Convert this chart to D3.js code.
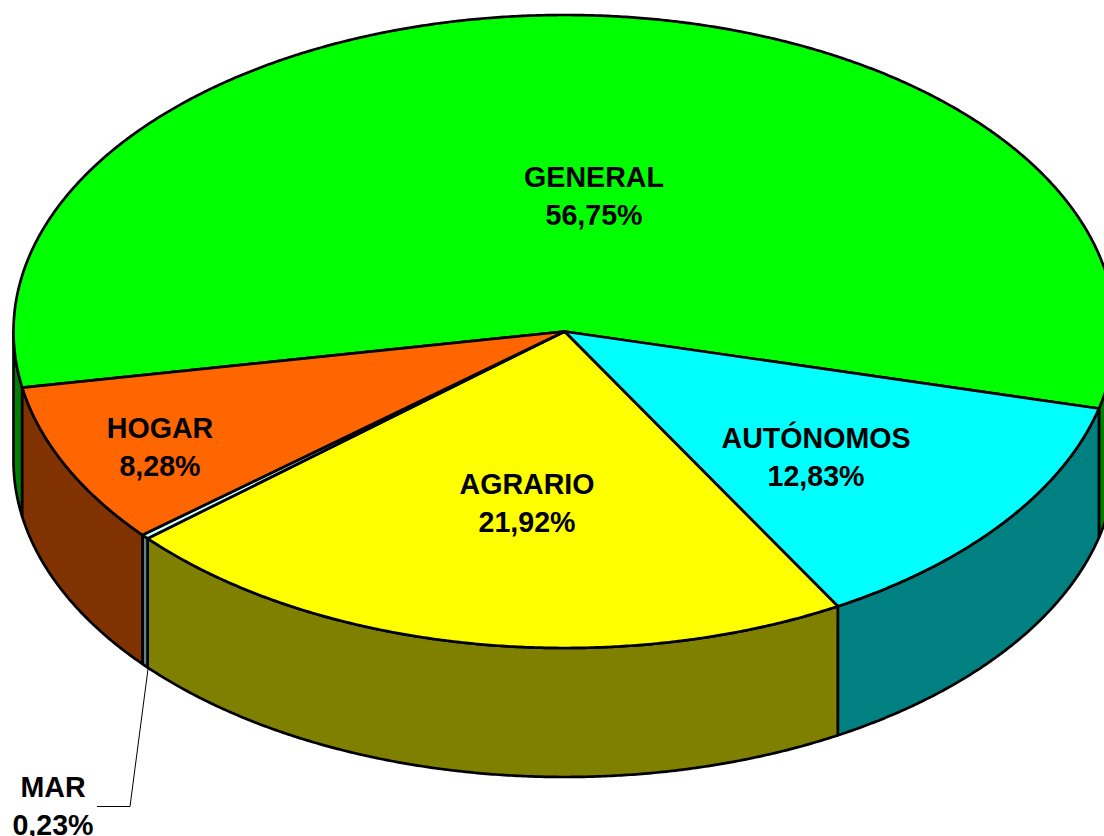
<!DOCTYPE html>
<html>
<head>
<meta charset="utf-8">
<style>html,body{margin:0;padding:0;background:#fff}svg{display:block}</style>
<script src="https://cdn.jsdelivr.net/npm/d3@7"></script>
</head>
<body>
<svg id="chart" width="1104" height="836"></svg>
<script>
const categories = ["GENERAL", "AUTÓNOMOS", "AGRARIO", "MAR", "HOGAR"];
const percentages = [56.75, 12.83, 21.92, 0.23, 8.28];
const percentLabels = ["56,75%", "12,83%", "21,92%", "0,23%", "8,28%"];
const topColors = ["#00FF00", "#00FFFF", "#FFFF00", "#CCFFFF", "#FF6600"];
const sideColors = ["#008000", "#008080", "#808000", "#668080", "#803300"];

const W = 1104, H = 836;
const cx = 564.5, cy = 331.5, rx = 551, ry = 316.5, depth = 129;
const startDeg = 259.8;
const fontPx = 28.6, lineGap = 38;
const labelPos = {
  "GENERAL": [594, 187], "AUTÓNOMOS": [816, 448], "AGRARIO": [527, 494],
  "HOGAR": [160, 437.5], "MAR": [53, 796.5]
};

const svg = d3.select("#chart");
const px = d3.scaleLinear().domain([-1, 1]).range([cx - rx, cx + rx]);
const py = d3.scaleLinear().domain([-1, 1]).range([cy - ry, cy + ry]);
const pie = d3.pie().sort(null)
  .startAngle(startDeg * Math.PI / 180)
  .endAngle((startDeg + 360) * Math.PI / 180);
const arcs = pie(percentages);

const pt = (a, dy = 0) => [px(Math.sin(a)), py(-Math.cos(a)) + dy];
const samples = (a0, a1, dy = 0) => {
  const n = Math.max(2, Math.ceil(Math.abs(a1 - a0) * 180));
  return d3.range(n + 1).map(i => pt(a0 + (a1 - a0) * i / n, dy));
};
const line = d3.line();
const tau = 2 * Math.PI;
const visA = Math.PI / 2, visB = 3 * Math.PI / 2;

const stroke = { stroke: "#000", sw: 2.7 };

// visible front wall pieces
function sideSpans(a0, a1) {
  const spans = [];
  for (let k = -1; k <= 2; k++) {
    const s = Math.max(a0, visA + k * tau), e = Math.min(a1, visB + k * tau);
    if (e > s) spans.push([s, e]);
  }
  return spans;
}

const sides = [];
arcs.forEach((d, i) => sideSpans(d.startAngle, d.endAngle).forEach(([s, e]) => sides.push({ i, s, e })));

svg.append("g").selectAll("path").data(sides).join("path")
  .attr("d", d => line([...samples(d.s, d.e, 0), ...samples(d.e, d.s, depth)]) + "Z")
  .attr("fill", d => sideColors[d.i])
  .attr("stroke", stroke.stroke).attr("stroke-width", stroke.sw)
  .attr("stroke-linejoin", "round");

svg.append("g").selectAll("path").data(arcs).join("path")
  .attr("d", d => line([[cx, cy], ...samples(d.startAngle, d.endAngle)]) + "Z")
  .attr("fill", (d, i) => topColors[i])
  .attr("stroke", stroke.stroke).attr("stroke-width", stroke.sw)
  .attr("stroke-linejoin", "round");

// leader line for MAR
svg.append("path")
  .attr("d", line([[148, 669], [130, 806.5], [97, 806.5]]))
  .attr("fill", "none").attr("stroke", "#000").attr("stroke-width", 1);

// labels
const labels = svg.append("g")
  .attr("font-family", "'Liberation Sans', Arial, sans-serif")
  .attr("font-weight", "bold").attr("font-size", fontPx)
  .attr("text-anchor", "middle").attr("fill", "#000");
categories.forEach((c, i) => {
  const [x, y] = labelPos[c];
  labels.append("text").attr("x", x).attr("y", y).text(c);
  labels.append("text").attr("x", x).attr("y", y + lineGap).text(percentLabels[i]);
});
</script>
</body>
</html>
